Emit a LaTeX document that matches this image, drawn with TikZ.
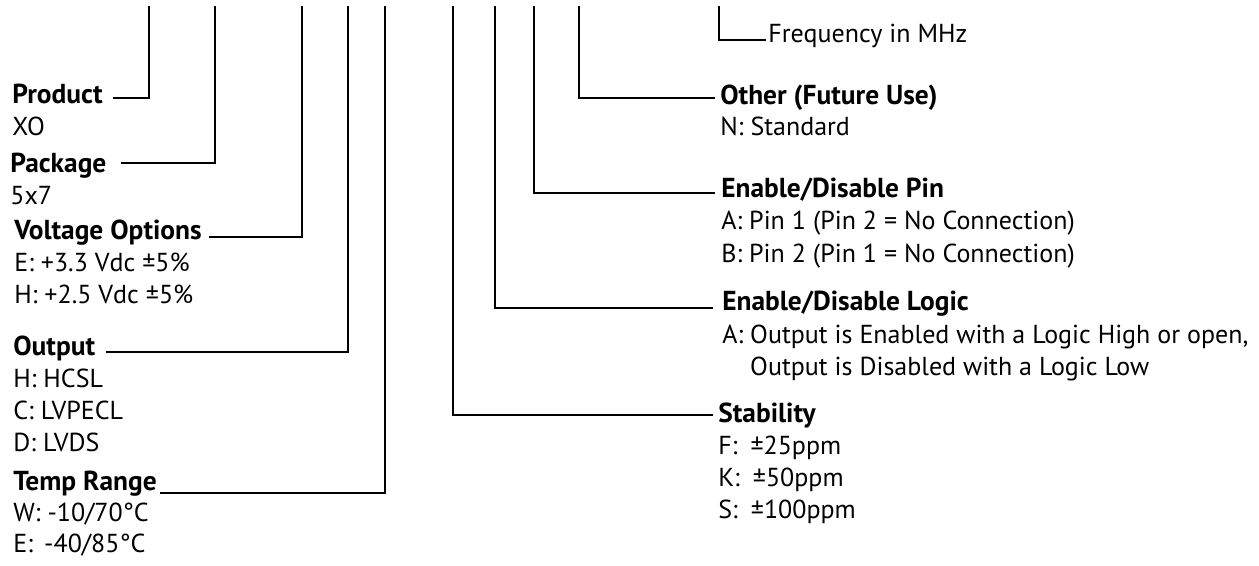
\documentclass[tikz,border=0pt]{standalone}
\usepackage{fontspec}
\setmainfont{PT Sans}

\tikzset{
  head/.style={font=\fontsize{15.6}{18}\selectfont\bfseries, inner sep=0pt, anchor=base west},
  opt/.style={font=\fontsize{14.8}{18}\selectfont, inner sep=0pt, anchor=base west},
  lead/.style={line width=1.2pt},
}

\begin{document}
\begin{tikzpicture}[x=0.2mm,y=-0.2mm]
    \useasboundingbox (0,0) rectangle (1259,565);
    % top ends of the leads
    \foreach \n/\x in {prod/149,pack/215,volt/302,outp/348,temp/385,stab/453,logic/495,pin/534,other/579,freq/719}{
        \coordinate (t-\n) at (\x,6);
    }

    % left column
    \node[head] (prod) at (12,103) {Product};
    \node[opt] (prod1) at (12,135) {XO};
    \node[head] (pack) at (10,172) {Package};
    \node[opt] (pack1) at (10,204) {5x7};
    \node[head] (volt) at (14,239) {Voltage Options};
    \foreach \t [count=\i] in {E: +3.3 Vdc ±5\%, H: +2.5 Vdc ±5\%}{
        \node[opt] (volt\i) at (14,{239+32*\i}) {\t};
    }
    \node[head] (outp) at (13,355) {Output};
    \foreach \t [count=\i] in {H: HCSL, C: LVPECL, D: LVDS}{
        \node[opt] (outp\i) at (13,{355+32*\i}) {\t};
    }
    \node[head] (temp) at (13,490) {Temp Range};
    \node[opt] (temp1) at (13,521) {W: -10/70°C};
    \node[opt] (temp2) at (13,552) {E: \,-40/85°C};

    % right column
    \node[opt] (freq) at (768,42) {Frequency in MHz};
    \node[head] (other) at (720,104) {Other (Future Use)};
    \node[opt] (other1) at (720,135) {N: Standard};
    \node[head] (pin) at (721,197) {Enable/Disable Pin};
    \node[opt] (pin1) at (721,229) {A: Pin 1 (Pin 2 = No Connection)};
    \node[opt] (pin2) at (721,262) {B: Pin 2 (Pin 1 = No Connection)};
    \node[head] (logic) at (722,310) {Enable/Disable Logic};
    \node[opt] (logic1) at (722,343) {A: Output is Enabled with a Logic High or open,};
    \node[opt] (logic2) at (722,375) {\phantom{A: }Output is Disabled with a Logic Low};
    \node[head] (stab) at (718,422) {Stability};
    \foreach \t [count=\i] in {F:\enspace±25ppm, K:\enspace±50ppm, S:\enspace±100ppm}{
        \node[opt] (stab\i) at (718,{422+32*\i}) {\t};
    }

    % leads
    \foreach \n/\dx/\dy in {prod/2/1,pack/2.8/1.8,volt/1.4/0.4,outp/2/0.6,temp/0.6/-0.6}{
        \draw[lead] ([xshift=\dx mm,yshift=\dy mm]\n.base east) -| (t-\n);
    }
    \foreach \n/\dx/\dy in {freq/0.4/0.4,other/1/1.2,pin/1.2/0.8,logic/1.8/0.4,stab/1/1.4}{
        \draw[lead] ([xshift=-\dx mm,yshift=\dy mm]\n.base west) -| (t-\n);
    }
\end{tikzpicture}
\end{document}
